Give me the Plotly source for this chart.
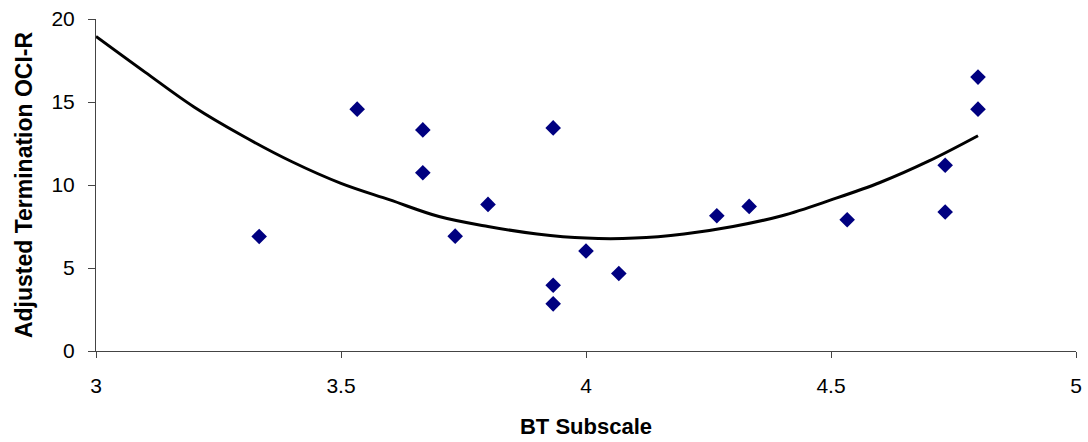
import plotly.graph_objects as go

# Scatter data
bt_subscale = [3.333, 3.533, 3.667, 3.667, 3.733, 3.8, 3.933, 3.933, 3.933,
               4.0, 4.067, 4.267, 4.333, 4.533, 4.733, 4.733, 4.8, 4.8]
oci_r = [6.9, 14.57, 13.32, 10.74, 6.92, 8.83, 13.44, 3.96, 2.84,
         6.02, 4.67, 8.15, 8.71, 7.91, 11.19, 8.37, 16.5, 14.57]

# Trendline points
trend_x = [3.0, 3.1, 3.2, 3.3, 3.4, 3.5, 3.6, 3.7, 3.8, 3.9, 4.0,
           4.1, 4.2, 4.3, 4.4, 4.5, 4.6, 4.7, 4.8]
trend_y = [18.95, 16.8, 14.7, 12.95, 11.4, 10.1, 9.1, 8.1, 7.5, 7.05, 6.8,
           6.8, 7.05, 7.5, 8.15, 9.1, 10.15, 11.45, 12.97]

x_ticks = [3, 3.5, 4, 4.5, 5]
x_tick_text = ["3", "3.5", "4", "4.5", "5"]
y_ticks = [0, 5, 10, 15, 20]

fig = go.Figure()
fig.add_trace(go.Scatter(
    x=bt_subscale, y=oci_r, mode="markers",
    marker=dict(symbol="diamond", size=12, color="#000080"),
    showlegend=False, cliponaxis=False,
))
fig.add_trace(go.Scatter(
    x=trend_x, y=trend_y, mode="lines",
    line=dict(color="black", width=3, shape="spline"),
    showlegend=False,
))

family = "Liberation Sans, Arial, sans-serif"
tick_font = dict(family=family, size=21, color="black")
fig.update_layout(
    width=1088, height=442,
    margin=dict(l=96, r=12, t=19, b=91, autoexpand=False),
    paper_bgcolor="white", plot_bgcolor="white",
    font=tick_font,
    xaxis=dict(
        range=[3, 5], tickvals=x_ticks, ticktext=x_tick_text,
        showgrid=False, zeroline=False, automargin=False,
        showline=True, linecolor="#444", linewidth=1,
        ticks="outside", ticklen=6, tickcolor="#444",
        ticklabelstandoff=10,
        tickfont=tick_font,
        title=dict(text="<b>BT Subscale</b>",
                   font=dict(family=family, size=22, color="black"), standoff=22),
    ),
    yaxis=dict(
        range=[0, 20], tickvals=y_ticks,
        showgrid=False, zeroline=False, automargin=False,
        showline=True, linecolor="#444", linewidth=1,
        ticks="outside", ticklen=7, tickcolor="#444",
        ticklabelstandoff=9,
        tickfont=tick_font,
        title=dict(text="<b>Adjusted Termination OCI-R</b>",
                   font=dict(family=family, size=23, color="black"), standoff=12),
    ),
)

fig.write_html("out.html")
